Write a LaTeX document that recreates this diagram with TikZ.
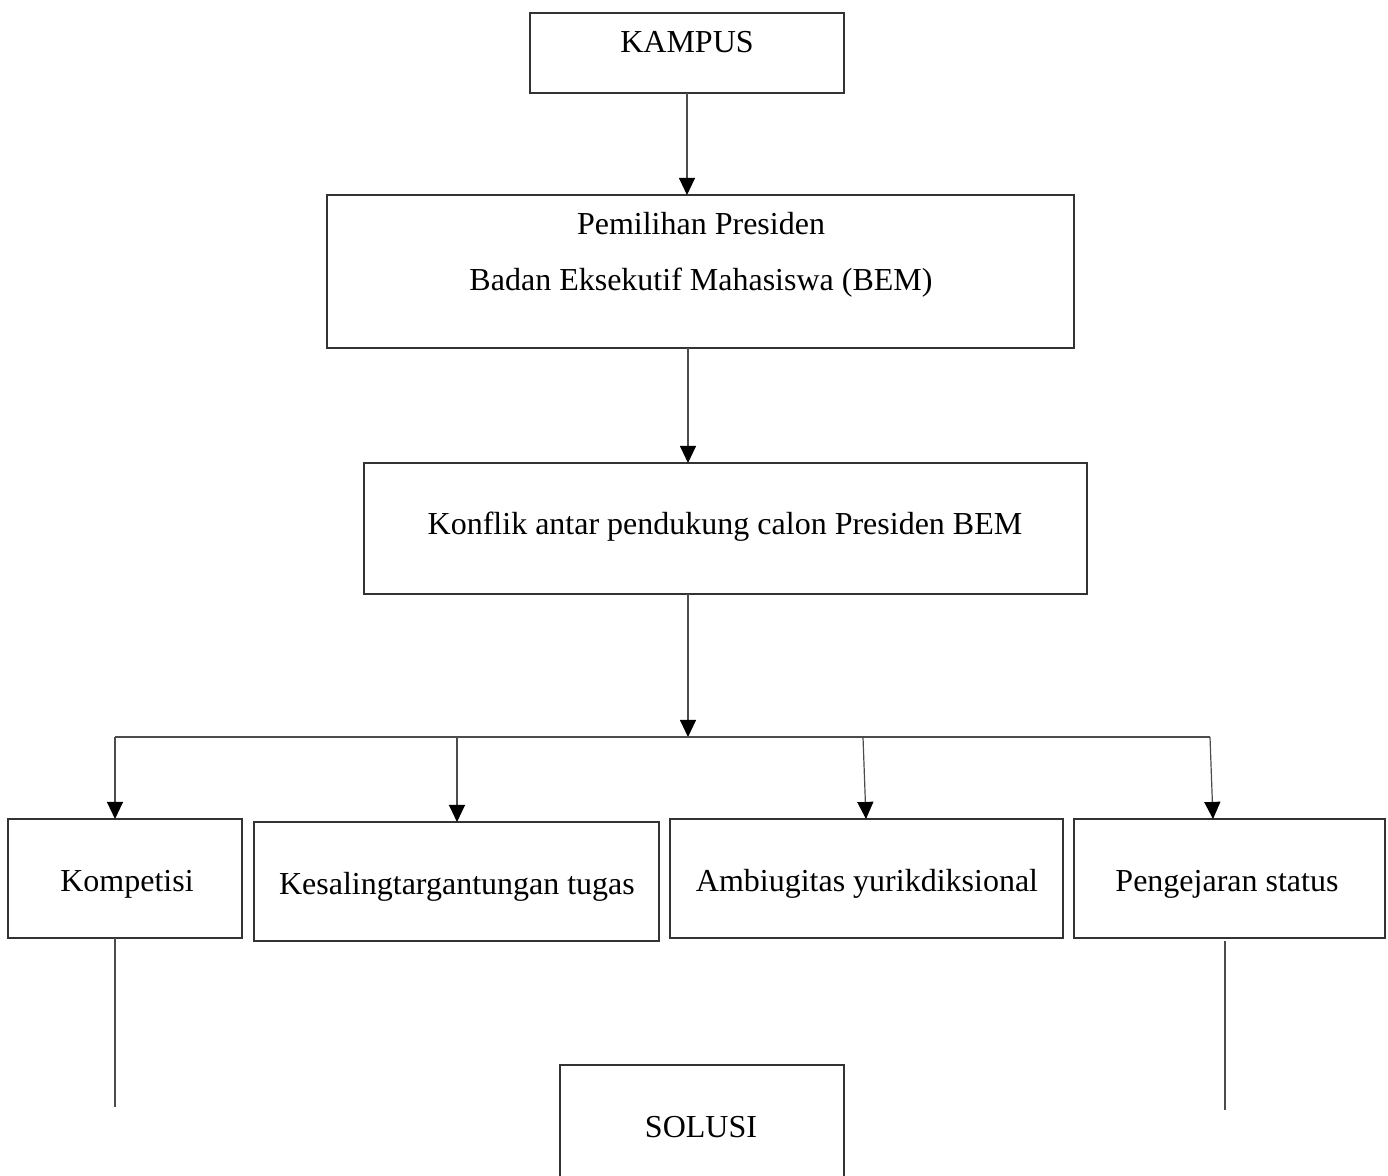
\documentclass[tikz,border=0pt]{standalone}
\usepackage{fontspec}
\setmainfont{Liberation Serif}
\usetikzlibrary{arrows.meta}
\begin{document}
\begin{tikzpicture}[x=0.375pt,y=-0.375pt,
  box/.style={draw=black!80,line width=0.45pt,inner sep=0pt,outer sep=0pt,fill=none},
  txt/.style={inner sep=0pt,anchor=base,font=\fontsize{12}{14}\selectfont},
  conn/.style={draw=black!70,line width=0.45pt},
  arr/.style={conn,-{Triangle[width=6pt,length=6.4pt,color=black,fill=black]}}]
\useasboundingbox (0,0) rectangle (1388,1176);
\clip (0,0) rectangle (1388,1176);
% boxes
\node[box,minimum width={314*0.375pt},minimum height={80*0.375pt}] (kampus) at (687,53) {};
\node[box,minimum width={747*0.375pt},minimum height={153*0.375pt}] (pemilihan) at (700.5,271.5) {};
\node[box,minimum width={723*0.375pt},minimum height={131*0.375pt}] (konflik) at (725.5,528.5) {};
\node[box,minimum width={234*0.375pt},minimum height={119*0.375pt}] (kompetisi) at (125,878.5) {};
\node[box,minimum width={405*0.375pt},minimum height={119*0.375pt}] (kesaling) at (456.5,881.5) {};
\node[box,minimum width={393*0.375pt},minimum height={119*0.375pt}] (ambi) at (866.5,878.5) {};
\node[box,minimum width={311*0.375pt},minimum height={119*0.375pt}] (peng) at (1229.5,878.5) {};
\node[box,minimum width={284*0.375pt},minimum height={140*0.375pt}] (solusi) at (702,1135) {};
% texts
\node[txt] (tkampus) at (687,53) {KAMPUS};
\node[txt] (tpem1) at (701,235) {Pemilihan Presiden};
\node[txt] (tpem2) at (701,291) {Badan Eksekutif Mahasiswa (BEM)};
\node[txt] (tkonflik) at (725,535) {Konflik antar pendukung calon Presiden BEM};
\node[txt] (tkomp) at (127,892) {Kompetisi};
\node[txt] (tkes) at (457,895) {Kesalingtargantungan tugas};
\node[txt] (tambi) at (867,892) {Ambiugitas yurikdiksional};
\node[txt] (tpeng) at (1227,892) {Pengejaran status};
\node[txt] (tsol) at (701,1137) {SOLUSI};
% coordinates
\coordinate (hl) at (115,737);
\coordinate (hr) at (1210,737);
\coordinate (hm) at (688,737);
\coordinate (h2) at (457,737);
\coordinate (h3) at (863,737);
\coordinate (endL) at (115,1107);
\coordinate (endR) at (1225,1110);
% connectors
\draw[arr] (kampus.south) -- (kampus.south |- pemilihan.north);
\draw[arr] (688,348) -- (688,463);
\draw[arr] (688,594) -- (hm);
\draw[conn] (hl) -- (hr);
\draw[arr] (hl) -- (115,819);
\draw[arr] (h2) -- (457,822);
\draw[arr] (h3) -- (866,819);
\draw[arr] (hr) -- (1213,819);
\draw[conn] (kompetisi.south -| endL) -- (endL);
\draw[conn] (1225,941) -- (endR);
\end{tikzpicture}
\end{document}
